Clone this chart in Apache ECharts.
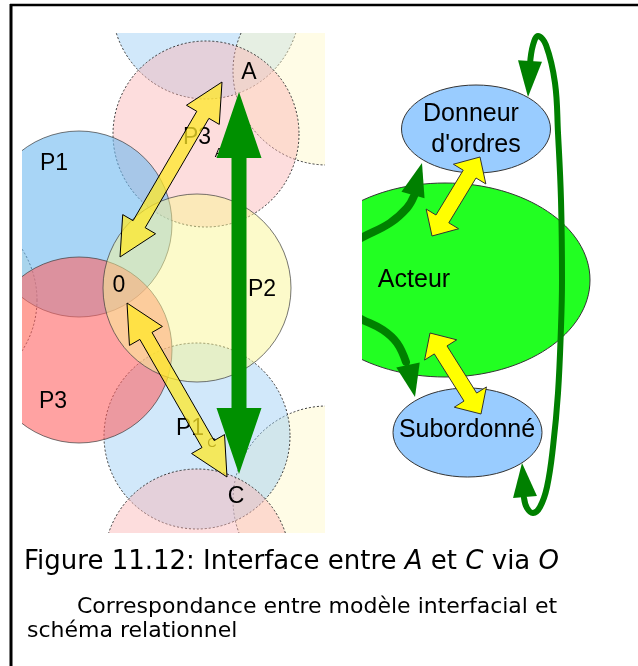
<!DOCTYPE html>
<html>
<head>
<meta charset="utf-8">
<title>Interface entre A et C via O</title>
<script src="https://cdn.jsdelivr.net/npm/echarts@6/dist/echarts.min.js"></script>
<style>
html,body{margin:0;padding:0;background:#fff;}
#main{width:638px;height:666px;}
</style>
</head>
<body>
<div id="main"></div>
<script>
// 左图：圆（中心、半径）
var circleX = [206, 327, 206, -57, 327, 197, 197, 79, 79, 197];
var circleY = [5, 71, 134, 300, 500, 436, 562, 224, 350, 288];
var circleR = [94, 94, 93, 94, 94, 93, 93, 93, 93, 94];
var circleKind = ['blueL', 'yellowL', 'pinkL', 'yellowL', 'yellowL', 'blueL', 'pinkL', 'blue', 'red', 'yellow'];

// 左图：标签
var labelText = ['A', 'P3', 'P1', '0', 'P2', 'P3', 'P1', 'C'];
var labelX = [249, 197, 54, 119, 262, 53, 190, 236];
var labelY = [73, 138, 164, 286, 290, 402, 429, 497];
var subText = ['A', 'C'];
var subX = [219, 212];
var subY = [153, 443];

// 左图：双箭头（两端尖点）
var yArrowX1 = [120, 127];
var yArrowY1 = [257, 303];
var yArrowX2 = [222, 227];
var yArrowY2 = [82, 477];
var gArrowX1 = [239];
var gArrowY1 = [92];
var gArrowX2 = [239];
var gArrowY2 = [474];

// 右图：椭圆
var ellX = [445, 476, 467.5];
var ellY = [280, 129, 432.5];
var ellRX = [145, 74.5, 74.5];
var ellRY = [97, 44, 44.5];
var ellKind = ['green', 'blue', 'blue'];
var ellText = ['Acteur', 'Donneur', "d'ordres", 'Subordonné'];
var ellTextX = [414, 471, 476, 467];
var ellTextY = [280, 114, 145, 430];

// 右图：黄色双箭头
var rArrowX1 = [432, 430];
var rArrowY1 = [236, 333];
var rArrowX2 = [480, 481];
var rArrowY2 = [157, 414];

// 右图：绿色弯箭头
var curveTop = [[350, 244], [363, 237], [390, 223], [407, 208], [414, 196]];
var curveBottom = [[350, 314], [363, 320], [383, 330], [397, 343], [406, 362]];
var curveLoop = [[530, 64], [533, 45], [538, 36], [546, 45], [555, 83], [558, 133], [561, 200], [562, 280],
  [561, 327], [558, 393], [553, 447], [547, 487], [540, 507], [533, 513], [527, 508], [524, 498]];
var headTipX = [422, 415, 528, 522];
var headTipY = [163, 397, 97, 463];
var headBaseX = [413, 408, 530, 525];
var headBaseY = [195, 365, 61, 497];

var colors = {
  blueL: 'rgba(153,204,245,0.45)',
  pinkL: 'rgba(250,180,180,0.45)',
  yellowL: 'rgba(255,248,200,0.45)',
  blue: 'rgba(110,185,240,0.6)',
  red: 'rgba(255,100,100,0.6)',
  yellow: 'rgba(250,245,150,0.5)',
  green: '#22ff22'
};

function doubleArrow(p1, p2, shaft, head, len) {
  var dx = p2[0] - p1[0], dy = p2[1] - p1[1];
  var l = Math.sqrt(dx * dx + dy * dy);
  var ux = dx / l, uy = dy / l, nx = -uy, ny = ux;
  function pt(b, a, s) { return [b[0] + ux * a + nx * s, b[1] + uy * a + ny * s]; }
  var s = shaft / 2, h = head / 2;
  return [p1, pt(p1, len, h), pt(p1, len, s), pt(p2, -len, s), pt(p2, -len, h),
    p2, pt(p2, -len, -h), pt(p2, -len, -s), pt(p1, len, -s), pt(p1, len, -h)];
}

function arrowSeries(name, x1, y1, x2, y2, gi, style, shaft, head, len) {
  return {
    type: 'custom', name: name, xAxisIndex: gi, yAxisIndex: gi, clip: true, silent: true,
    data: x1.map(function (v, i) { return [v, y1[i], x2[i], y2[i]]; }),
    renderItem: function (params, api) {
      var p1 = api.coord([api.value(0), api.value(1)]);
      var p2 = api.coord([api.value(2), api.value(3)]);
      return { type: 'polygon', shape: { points: doubleArrow(p1, p2, shaft, head, len) }, style: style };
    }
  };
}

function textSeries(name, tx, x, y, gi, font) {
  return {
    type: 'custom', name: name, xAxisIndex: gi, yAxisIndex: gi, clip: true, silent: true,
    data: x.map(function (v, i) { return [v, y[i]]; }),
    renderItem: function (params, api) {
      var c = api.coord([api.value(0), api.value(1)]);
      return {
        type: 'text', x: c[0], y: c[1],
        style: { text: tx[params.dataIndex], fill: '#000', font: font, align: 'center', verticalAlign: 'middle' }
      };
    }
  };
}

function curveSeries(name, pts, width) {
  return {
    type: 'custom', name: name, xAxisIndex: 1, yAxisIndex: 1, clip: true, silent: true,
    data: pts,
    renderItem: function (params, api) {
      if (params.dataIndex > 0) return null;
      var p = pts.map(function (d) { return api.coord(d); });
      return { type: 'polyline', shape: { points: p, smooth: 0.4 }, style: { stroke: '#008000', lineWidth: width, fill: null, lineCap: 'round' } };
    }
  };
}

var myChart = echarts.init(document.getElementById('main'));
var option = {
  animation: false,
  grid: [
    { left: 22, top: 33, width: 303, height: 500 },
    { left: 362, top: 0, width: 276, height: 666 }
  ],
  xAxis: [
    { gridIndex: 0, type: 'value', min: 22, max: 325, show: false },
    { gridIndex: 1, type: 'value', min: 362, max: 638, show: false }
  ],
  yAxis: [
    { gridIndex: 0, type: 'value', min: 33, max: 533, inverse: true, show: false },
    { gridIndex: 1, type: 'value', min: 0, max: 666, inverse: true, show: false }
  ],
  title: [
    {
      text: 'Figure 11.12: Interface entre {i|A} et {i|C} via {i|O}', left: 24, top: 549, padding: 0,
      textStyle: { fontFamily: 'DejaVu Sans', fontSize: 26, fontWeight: 'normal', color: '#000',
        rich: { i: { fontFamily: 'DejaVu Sans', fontSize: 26, fontStyle: 'italic', color: '#000' } } }
    },
    {
      text: 'Correspondance entre modèle interfacial et', left: 77, top: 596, padding: 0,
      textStyle: { fontFamily: 'DejaVu Sans', fontSize: 22, fontWeight: 'normal', color: '#000' }
    },
    {
      text: 'schéma relationnel', left: 27, top: 620, padding: 0,
      textStyle: { fontFamily: 'DejaVu Sans', fontSize: 22, fontWeight: 'normal', color: '#000' }
    }
  ],
  graphic: [
    { type: 'line', shape: { x1: 11, y1: 4, x2: 11, y2: 666 }, style: { stroke: '#000', lineWidth: 3 } },
    { type: 'line', shape: { x1: 10, y1: 5, x2: 638, y2: 5 }, style: { stroke: '#000', lineWidth: 2.5 } }
  ],
  series: [
    {
      type: 'custom', name: 'cercles', xAxisIndex: 0, yAxisIndex: 0, clip: true, silent: true,
      data: circleX.map(function (v, i) { return [v, circleY[i], circleR[i]]; }),
      renderItem: function (params, api) {
        var k = circleKind[params.dataIndex];
        var dashed = k.charAt(k.length - 1) === 'L';
        var c = api.coord([api.value(0), api.value(1)]);
        var r = api.size([api.value(2), 0])[0];
        return {
          type: 'circle', shape: { cx: c[0], cy: c[1], r: r },
          style: { fill: colors[k], stroke: dashed ? '#333' : 'rgba(60,60,60,0.7)', lineWidth: 1, lineDash: dashed ? [2, 2] : null }
        };
      }
    },
    textSeries('labels', labelText, labelX, labelY, 0, '23px "Liberation Sans", Arial, sans-serif'),
    textSeries('indices', subText, subX, subY, 0, '13px "Liberation Sans", Arial, sans-serif'),
    arrowSeries('fleches jaunes', yArrowX1, yArrowY1, yArrowX2, yArrowY2, 0,
      { fill: 'rgba(255,232,40,0.75)', stroke: '#000', lineWidth: 1 }, 14, 38, 38),
    arrowSeries('fleche verte', gArrowX1, gArrowY1, gArrowX2, gArrowY2, 0,
      { fill: '#009000' }, 15, 45, 66),
    {
      type: 'custom', name: 'ellipses', xAxisIndex: 1, yAxisIndex: 1, clip: true, silent: true,
      data: ellX.map(function (v, i) { return [v, ellY[i], ellRX[i], ellRY[i]]; }),
      renderItem: function (params, api) {
        var c = api.coord([api.value(0), api.value(1)]);
        var s = api.size([api.value(2), api.value(3)]);
        var k = ellKind[params.dataIndex];
        return {
          type: 'ellipse', shape: { cx: c[0], cy: c[1], rx: s[0], ry: s[1] },
          style: { fill: k === 'green' ? colors.green : '#99ccff', stroke: '#333', lineWidth: 1 }
        };
      }
    },
    arrowSeries('fleches droite', rArrowX1, rArrowY1, rArrowX2, rArrowY2, 1,
      { fill: '#ffff00', stroke: '#333', lineWidth: 1 }, 15, 38, 20),
    curveSeries('courbe haut', curveTop, 8),
    curveSeries('courbe bas', curveBottom, 8),
    curveSeries('boucle', curveLoop, 6),
    {
      type: 'custom', name: 'pointes', xAxisIndex: 1, yAxisIndex: 1, clip: true, silent: true,
      data: headTipX.map(function (v, i) { return [v, headTipY[i], headBaseX[i], headBaseY[i]]; }),
      renderItem: function (params, api) {
        var t = api.coord([api.value(0), api.value(1)]);
        var b = api.coord([api.value(2), api.value(3)]);
        var dx = t[0] - b[0], dy = t[1] - b[1];
        var l = Math.sqrt(dx * dx + dy * dy);
        var nx = -dy / l * 12, ny = dx / l * 12;
        return { type: 'polygon', shape: { points: [t, [b[0] + nx, b[1] + ny], [b[0] - nx, b[1] - ny]] }, style: { fill: '#008000' } };
      }
    },
    textSeries('textes', ellText, ellTextX, ellTextY, 1, '25px "Liberation Sans", Arial, sans-serif')
  ]
};
myChart.setOption(option);
</script>
</body>
</html>
